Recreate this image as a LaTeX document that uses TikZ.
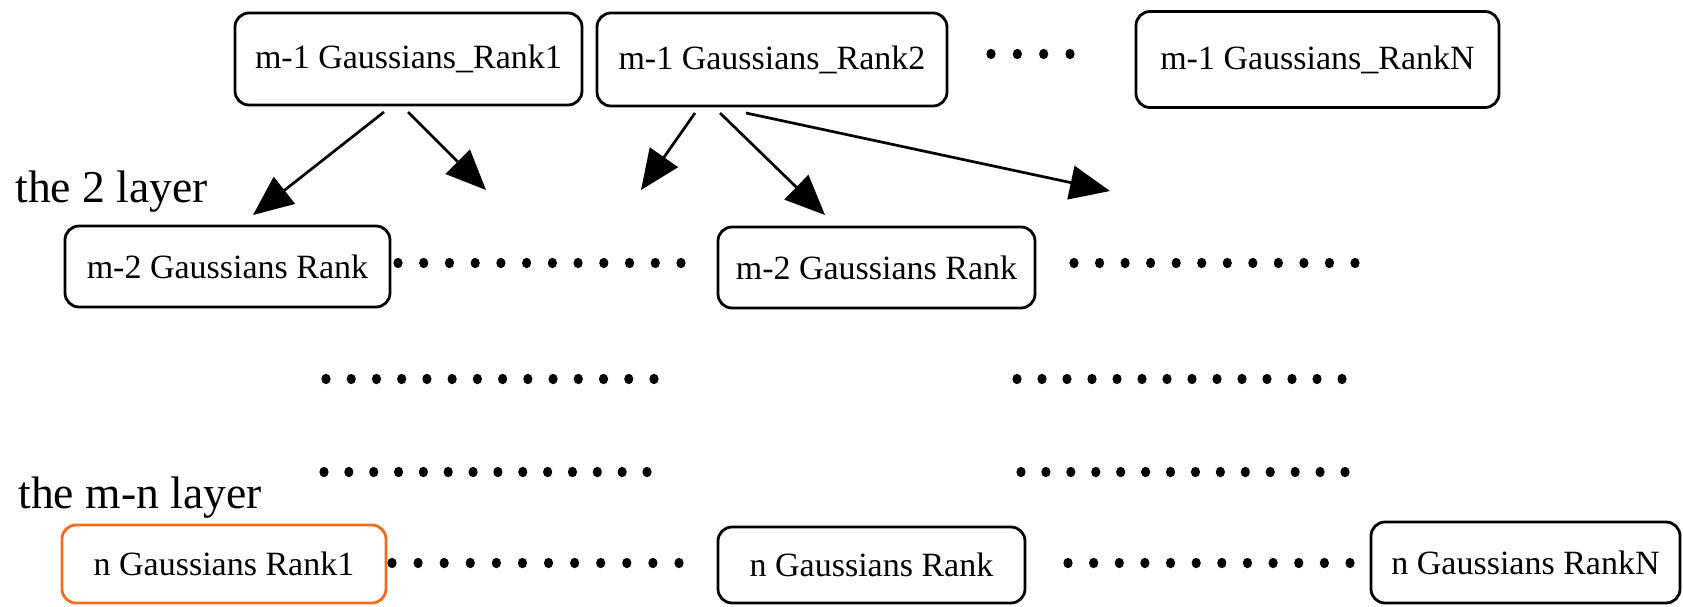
\documentclass[tikz,border=0pt]{standalone}
\usepackage{fontspec}
\setmainfont{Liberation Serif}
\usetikzlibrary{arrows.meta}
\definecolor{rankorange}{RGB}{240,108,30}
\begin{document}
\begin{tikzpicture}[x=0.5pt,y=-0.5pt,
  box/.style={draw, rounded corners=7pt, line width=1.4pt, inner sep=0pt,
              font=\fontsize{17}{20}\selectfont},
  layerlabel/.style={anchor=base west, inner sep=0pt, font=\fontsize{22.8}{26}\selectfont},
  link/.style={line width=1.35pt, -{Triangle[length=20pt,width=17pt]}},
  blob/.style={fill=black}]
\useasboundingbox (0,0) rectangle (1683,606);

% top row: m-1 Gaussians
\node[box, minimum width=173.5pt, minimum height=46pt] (r1) at (408.5,59) {m-1 Gaussians\_Rank1};
\node[box, minimum width=175pt, minimum height=46.5pt] (r2) at (772,59.5) {m-1 Gaussians\_Rank2};
\node[box, minimum width=181.5pt, minimum height=48pt] (rN) at (1317.5,59.5) {m-1 Gaussians\_RankN};

% second layer
\node[layerlabel] (l2) at (15,202) {the 2 layer};
\node[box, minimum width=162.5pt, minimum height=40.5pt] (a) at (227.5,266.5) {m-2 Gaussians Rank};
\node[box, minimum width=158.5pt, minimum height=40.5pt] (b) at (876.5,267.5) {m-2 Gaussians Rank};

% bottom layer
\node[layerlabel] (ln) at (18,508) {the m-n layer};
\node[box, draw=rankorange, minimum width=162pt, minimum height=39pt] (c1) at (224,564) {n Gaussians Rank1};
\node[box, minimum width=153.5pt, minimum height=38pt] (c2) at (871.5,565) {n Gaussians Rank};
\node[box, minimum width=154.5pt, minimum height=40.5pt] (c3) at (1525.5,562.5) {n Gaussians RankN};

% arrow end points
\coordinate (s1) at (384,112);  \coordinate (t1) at (253,215);
\coordinate (s2) at (408,112);  \coordinate (t2) at (486,190);
\coordinate (s3) at (695,113);  \coordinate (t3) at (641,190);
\coordinate (s4) at (720,113);  \coordinate (t4) at (825,215);
\coordinate (s5) at (746,113);  \coordinate (t5) at (1110,191);

\draw[link] (s1) -- (t1);
\draw[link] (s2) -- (t2);
\draw[link] (s3) -- (t3);
\draw[link] (s4) -- (t4);
\draw[link] (s5) -- (t5);

% rows of ellipsis dots: first x / last x / y / intervals
\foreach \xa/\xb/\yy/\n in {
    991/1070/54/3,
    398/681/263/11, 1074/1355/263/11,
    326/654/379/13, 1017/1342/379/13,
    324/647/472/13, 1021/1345/472/13,
    392/679/563/11, 1068/1350/563/11}{
  \foreach \k in {0,...,\n}
    \fill[blob] ({\xa+\k*(\xb-\xa)/\n},\yy) ellipse[x radius=2.3pt, y radius=2.6pt];
}
\end{tikzpicture}
\end{document}
